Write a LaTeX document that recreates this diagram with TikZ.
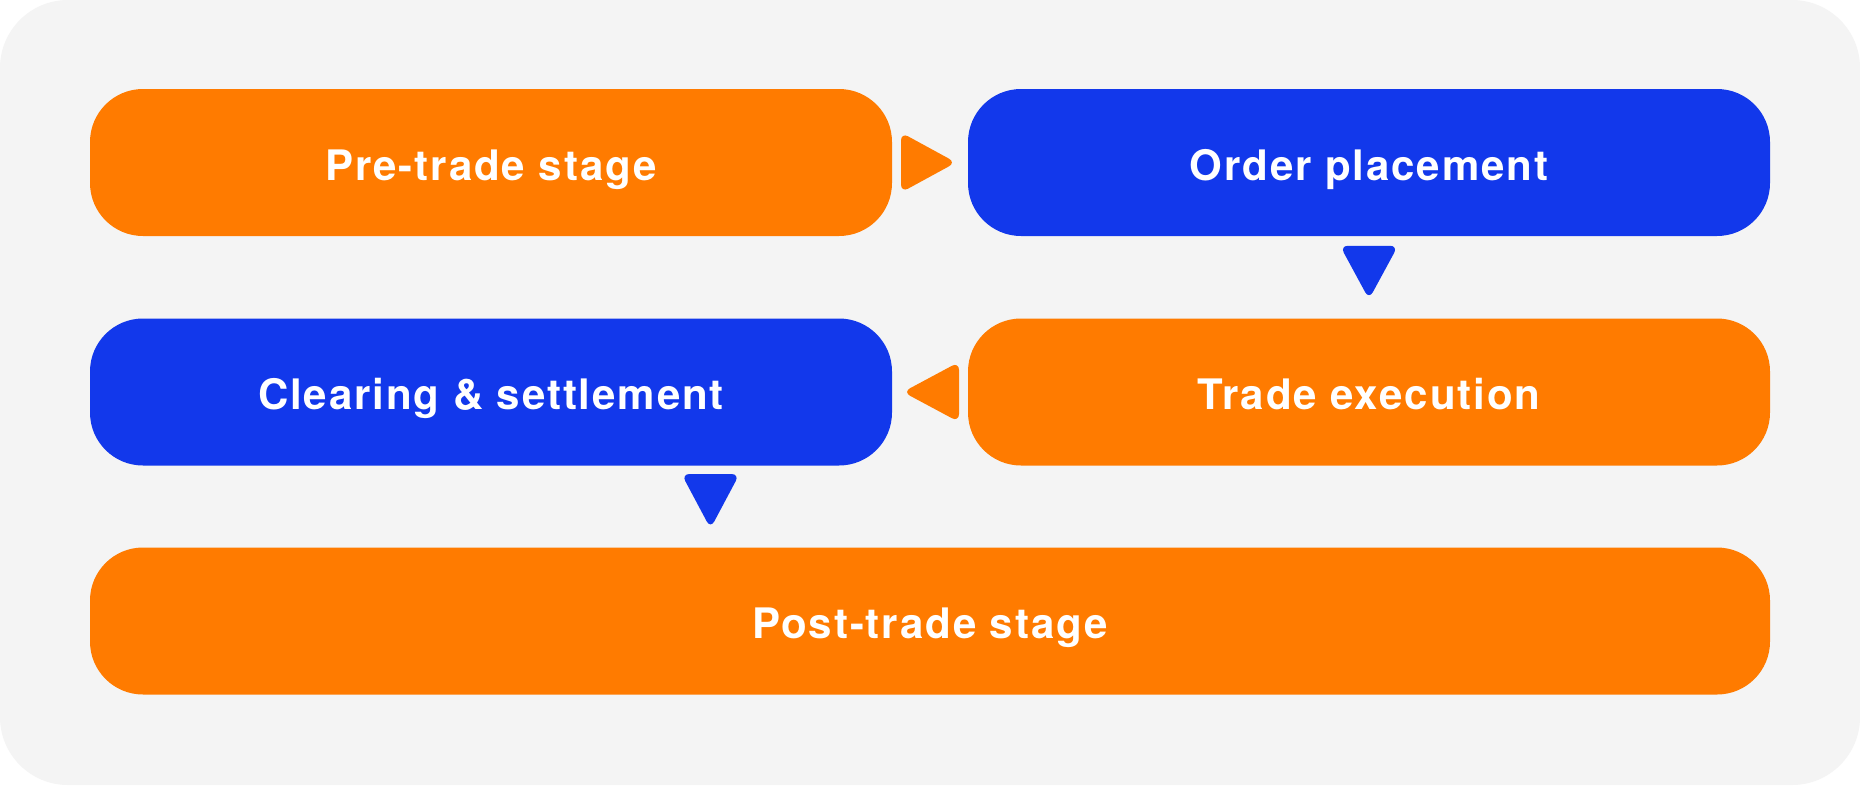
\documentclass[tikz,border=0pt]{standalone}
\usepackage{fontspec}
\setmainfont{TeX Gyre Heros}[LetterSpace=4.5]
\usetikzlibrary{calc}
\definecolor{bgc}{HTML}{F4F4F4}
\definecolor{orng}{HTML}{FF7B00}
\definecolor{blu}{HTML}{1238EB}
\tikzset{
  stagebox/.style={rectangle, rounded corners=53pt, draw=none, text=white,
    font=\fontsize{42}{42}\selectfont\bfseries, minimum height=147pt,
    text height=35pt, text depth=0pt, inner sep=0pt},
  tri/.style={rounded corners=8pt}
}
\begin{document}
\begin{tikzpicture}[x=1pt,y=-1pt]
\useasboundingbox (0,0) rectangle (1860,785);
\fill[white] (0,0) rectangle (1860,785);
\fill[bgc, rounded corners=68pt] (0,0) rectangle (1860,785);

\node[stagebox, fill=orng, minimum width=802pt] (pre) at (491,162.5) {Pre-trade stage};
\node[stagebox, fill=blu, minimum width=802pt] (ord) at (1369,162.5) {Order placement};
\node[stagebox, fill=blu, minimum width=802pt] (clr) at (491,392) {Clearing \& settlement};
\node[stagebox, fill=orng, minimum width=802pt] (exe) at (1369,392) {Trade execution};
\node[stagebox, fill=orng, minimum width=1680pt] (post) at (930,621) {Post-trade stage};

\coordinate (m1) at ($(pre.east)!0.5!(ord.west)$);
\coordinate (m2) at ($(ord.south)!0.5!(exe.north)$);
\coordinate (m3) at ($(exe.west)!0.5!(clr.east)$);
\coordinate (m4) at ($(clr.south)!0.5!(post.north)$);

\fill[orng, tri] ($(m1)+(-29,-30)$) -- ($(m1)+(26,0)$) -- ($(m1)+(-29,30)$) -- cycle;
\fill[blu, tri] ($(m2)+(-29,-31.5)$) -- ($(m2)+(29,-31.5)$) -- ($(m2)+(0,22)$) -- cycle;
\fill[orng, tri] ($(m3)+(29,-30)$) -- ($(m3)+(-27,0)$) -- ($(m3)+(29,30)$) -- cycle;
\fill[blu, tri] ($(m4)+(-29,-32.5)$) -- ($(m4)+(29,-32.5)$) -- ($(m4)+(0,22)$) -- cycle;
\end{tikzpicture}
\end{document}
